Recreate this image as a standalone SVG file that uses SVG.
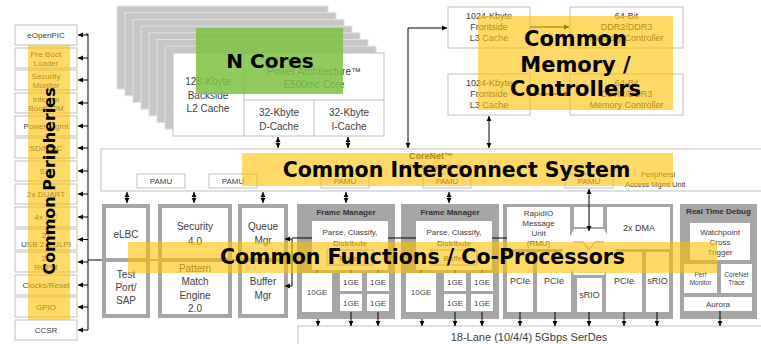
<svg xmlns="http://www.w3.org/2000/svg" width="761" height="344" viewBox="0 0 761 344">
<defs>
<style>
.t{font-family:"Liberation Sans",Arial,sans-serif;font-size:8px;fill:#404040;text-anchor:middle}
.m{font-size:10px}
.s{font-size:9px}
.xs{font-size:6.5px}
.b{font-weight:bold;fill:#333}
.box{fill:#fff;stroke:#bfbfbf;stroke-width:1}
.gbox{fill:#fff;stroke:#a6a6a6;stroke-width:1}
.g{fill:#a6a6a6}
.w{fill:#fff}
.layer{fill:#c6c6c6;stroke:#e2e2e2;stroke-width:1}
.ln{stroke:#000;stroke-width:1;fill:none}
.gl{stroke:#a6a6a6;stroke-width:2;fill:none}
.a1{marker-end:url(#ah)}
.a2{marker-start:url(#ah);marker-end:url(#ah)}
.ov{fill:#ffc000;opacity:0.6}
.big{font-family:"DejaVu Sans",Verdana,sans-serif;font-weight:bold;font-size:20.5px;fill:#000;text-anchor:middle}
</style>
<marker id="ah" markerWidth="6" markerHeight="6" refX="5" refY="3" orient="auto-start-reverse" markerUnits="userSpaceOnUse"><path d="M0,0.6 L5,3 L0,5.4z" fill="#000"/></marker>
</defs>
<rect width="761" height="344" fill="#fff"/>

<!-- Left peripherals -->
<g id="periph">
<rect class="box" x="15" y="25" width="62" height="20"/><text class="t" x="46" y="38">eOpenPIC</text>
<rect class="box" x="15" y="48" width="62" height="20"/><text class="t" x="46" y="56.5">Pre Boot</text><text class="t" x="46" y="65.5">Loader</text>
<rect class="box" x="15" y="70" width="62" height="20"/><text class="t" x="46" y="78.5">Security</text><text class="t" x="46" y="87.5">Monitor</text>
<rect class="box" x="15" y="93" width="62" height="20"/><text class="t" x="46" y="101.5">Internal</text><text class="t" x="46" y="110.5">BootROM</text>
<rect class="box" x="15" y="116" width="62" height="20"/><text class="t" x="46" y="129">Power Mgmt</text>
<rect class="box" x="15" y="138" width="62" height="20"/><text class="t" x="46" y="151">SD/MMC</text>
<rect class="box" x="15" y="161" width="62" height="20"/><text class="t" x="46" y="174">SPI</text>
<rect class="box" x="15" y="184" width="62" height="20"/><text class="t" x="46" y="197">2x DUART</text>
<rect class="box" x="15" y="207" width="62" height="20"/><text class="t" x="46" y="220">4x I2C</text>
<rect class="box" x="15" y="229" width="62" height="21"/><text class="t" x="46" y="238">2x</text><text class="t" x="46" y="247">USB 2.0/ULPI</text>
<rect class="box" x="15" y="252" width="62" height="20"/><text class="t" x="46" y="260.5">2x</text><text class="t" x="46" y="269.5">RCPM</text>
<rect class="box" x="15" y="275" width="62" height="20"/><text class="t" x="46" y="288">Clocks/Reset</text>
<rect class="box" x="15" y="297" width="62" height="20"/><text class="t" x="46" y="310">GPIO</text>
<rect class="box" x="15" y="320" width="62" height="20"/><text class="t" x="46" y="333">CCSR</text>
</g>

<!-- Cores stack -->
<g id="cores">
<rect class="layer" x="117" y="6" width="211" height="83"/>
<rect class="layer" x="125" y="12.7" width="211" height="83"/>
<rect class="layer" x="133" y="19.4" width="211" height="83"/>
<rect class="layer" x="141" y="26.1" width="211" height="83"/>
<rect class="layer" x="149" y="32.8" width="211" height="83"/>
<rect class="layer" x="157" y="39.5" width="211" height="83"/>
<rect class="layer" x="165" y="46.2" width="211" height="83"/>
<rect class="box" x="173" y="53" width="211" height="83"/>
<path d="M244,53 V136 M244,100 H384 M314,100 V136" stroke="#bfbfbf" fill="none"/>
<text class="t m" x="208" y="85">128-Kbyte</text>
<text class="t m" x="208" y="99">Backside</text>
<text class="t m" x="208" y="112">L2 Cache</text>
<text class="t m" x="314" y="75">Power Architecture™</text>
<text class="t m" x="314" y="88">E500mc Core</text>
<text class="t m" x="279" y="116">32-Kbyte</text>
<text class="t m" x="279" y="130">D-Cache</text>
<text class="t m" x="349" y="116">32-Kbyte</text>
<text class="t m" x="349" y="130">I-Cache</text>
</g>

<!-- Memory -->
<g id="l3a"><rect class="box" x="448" y="7" width="82" height="41"/>
<text class="t s" x="489" y="19">1024-Kbyte</text><text class="t s" x="489" y="30">Frontside</text><text class="t s" x="489" y="41">L3 Cache</text></g>
<g id="ddra"><rect class="box" x="570" y="7" width="113" height="41"/>
<text class="t s" x="626.5" y="19">64-Bit</text><text class="t s" x="626.5" y="30">DDR2/DDR3</text><text class="t s" x="626.5" y="41">Memory Controller</text></g>
<g id="l3b"><rect class="box" x="448" y="74" width="82" height="41"/>
<text class="t s" x="489" y="86">1024-Kbyte</text><text class="t s" x="489" y="97">Frontside</text><text class="t s" x="489" y="108">L3 Cache</text></g>
<g id="ddrb"><rect class="box" x="570" y="74" width="113" height="41"/>
<text class="t s" x="626.5" y="86">64-Bit</text><text class="t s" x="626.5" y="97">DDR2/DDR3</text><text class="t s" x="626.5" y="108">Memory Controller</text></g>

<!-- CoreNet -->
<g id="corenet">
<rect class="box" x="101" y="149" width="662" height="42"/>
<text class="t b s" x="431" y="159">CoreNet™</text>
<text class="t" x="431" y="169">Coherency Fabric</text>
<text class="t" x="641" y="177" style="text-anchor:start;font-size:7.5px">Peripheral</text>
<text class="t" x="625" y="187" style="text-anchor:start;font-size:7.5px">Access Mgmt Unit</text>
<rect class="box" x="137" y="174" width="48" height="14"/><text class="t" x="161" y="184">PAMU</text>
<rect class="box" x="209" y="174" width="48" height="14"/><text class="t" x="233" y="184">PAMU</text>
<rect class="box" x="321" y="174" width="48" height="14"/><text class="t" x="345" y="184">PAMU</text>
<rect class="box" x="423" y="174" width="48" height="14"/><text class="t" x="447" y="184">PAMU</text>
<rect class="box" x="565" y="174" width="48" height="14"/><text class="t" x="589" y="184">PAMU</text>
</g>

<!-- eLBC -->
<g id="elbc">
<rect class="g" x="102" y="204" width="48" height="114"/>
<rect class="w" x="106" y="208" width="40" height="50"/>
<rect class="w" x="106" y="262" width="40" height="52"/>
<text class="t m" x="126" y="238">eLBC</text>
<text class="t m" x="126" y="278">Test</text><text class="t m" x="126" y="291">Port/</text><text class="t m" x="126" y="304">SAP</text>
</g>
<g id="security">
<rect class="g" x="158" y="204" width="74" height="114"/>
<rect class="w" x="162" y="208" width="66" height="50"/>
<rect class="w" x="162" y="262" width="66" height="52"/>
<text class="t m" x="195" y="230">Security</text><text class="t m" x="195" y="245">4.0</text>
<text class="t m" x="195" y="272">Pattern</text><text class="t m" x="195" y="285">Match</text><text class="t m" x="195" y="299">Engine</text><text class="t m" x="195" y="312">2.0</text>
</g>
<g id="qman">
<rect class="g" x="238" y="204" width="50" height="114"/>
<rect class="w" x="242" y="208" width="42" height="50"/>
<rect class="w" x="242" y="262" width="42" height="52"/>
<text class="t m" x="263" y="230">Queue</text><text class="t m" x="263" y="244">Mgr</text>
<text class="t m" x="263" y="285">Buffer</text><text class="t m" x="263" y="299">Mgr</text>
</g>

<!-- Frame Managers -->
<g id="fm1">
<rect class="g" x="297" y="204" width="98" height="115"/>
<text class="t b" x="346" y="215">Frame Manager</text>
<rect class="w" x="312" y="221" width="76" height="49"/>
<text class="t" x="350" y="235">Parse, Classify,</text>
<text class="t" x="350" y="246">Distribute</text>
<rect class="gbox" x="327" y="250" width="46" height="15"/><text class="t" x="350" y="261">Buffer</text>
<rect class="w" x="302" y="273" width="30" height="39"/><text class="t" x="317" y="295">10GE</text>
<rect class="w" x="340" y="273" width="22" height="18"/><text class="t" x="351" y="285">1GE</text>
<rect class="w" x="367" y="273" width="22" height="18"/><text class="t" x="378" y="285">1GE</text>
<rect class="w" x="340" y="294" width="22" height="17"/><text class="t" x="351" y="306">1GE</text>
<rect class="w" x="367" y="294" width="22" height="17"/><text class="t" x="378" y="306">1GE</text>
</g>
<g id="fm2">
<rect class="g" x="401" y="204" width="98" height="115"/>
<text class="t b" x="450" y="215">Frame Manager</text>
<rect class="w" x="416" y="221" width="76" height="49"/>
<text class="t" x="454" y="235">Parse, Classify,</text>
<text class="t" x="454" y="246">Distribute</text>
<rect class="gbox" x="431" y="250" width="46" height="15"/><text class="t" x="454" y="261">Buffer</text>
<rect class="w" x="406" y="273" width="30" height="39"/><text class="t" x="421" y="295">10GE</text>
<rect class="w" x="444" y="273" width="22" height="18"/><text class="t" x="455" y="285">1GE</text>
<rect class="w" x="471" y="273" width="22" height="18"/><text class="t" x="482" y="285">1GE</text>
<rect class="w" x="444" y="294" width="22" height="17"/><text class="t" x="455" y="306">1GE</text>
<rect class="w" x="471" y="294" width="22" height="17"/><text class="t" x="482" y="306">1GE</text>
</g>

<!-- RapidIO / PCIe -->
<g id="srio">
<rect class="g" x="503" y="204" width="170" height="115"/>
<rect class="w" x="507" y="207" width="63" height="42"/>
<rect class="w" x="574" y="207" width="29" height="20"/>
<rect class="w" x="607" y="207" width="63" height="42"/>
<polygon class="w" points="574,229 604,229 616,252 604,275 574,275 562,252"/>
<path d="M574,242 H583 L589,250 L595,242 H604" stroke="#7f7f7f" fill="none" stroke-width="0.8"/>
<rect class="w" x="507" y="252" width="26" height="60"/>
<rect class="w" x="537" y="252" width="34" height="60"/>
<rect class="w" x="577" y="278" width="25" height="34"/>
<rect class="w" x="606" y="252" width="36" height="60"/>
<rect class="w" x="646" y="252" width="23" height="60"/>
<text class="t" x="538.5" y="216">RapidIO</text><text class="t" x="538.5" y="226">Message</text><text class="t" x="538.5" y="236">Unit</text><text class="t" x="538.5" y="246">(RMU)</text>
<text class="t s" x="639" y="231">2x DMA</text>
<text class="t s" x="520" y="284">PCIe</text>
<text class="t s" x="554" y="284">PCIe</text>
<text class="t s" x="624" y="284">PCIe</text>
<text class="t s" x="657.5" y="284">sRIO</text>
<text class="t s" x="589.5" y="298">sRIO</text>
</g>

<!-- Real Time Debug -->
<g id="debug">
<rect class="g" x="680" y="204" width="77" height="115"/>
<text class="t b" x="718.5" y="214">Real Time Debug</text>
<rect class="w" x="690" y="223" width="60" height="37"/>
<text class="t" x="720" y="235">Watchpoint</text><text class="t" x="720" y="245">Cross</text><text class="t" x="720" y="255">Trigger</text>
<rect class="w" x="684" y="264" width="33" height="29"/>
<text class="t xs" x="700.5" y="277">Perf</text><text class="t xs" x="700.5" y="285">Monitor</text>
<rect class="w" x="721" y="264" width="31" height="29"/>
<text class="t xs" x="736.5" y="277">CoreNet</text><text class="t xs" x="736.5" y="285">Trace</text>
<rect class="w" x="684" y="297" width="68" height="14"/>
<text class="t" x="718" y="307">Aurora</text>
</g>

<g id="serdes">
<rect class="box" x="298" y="326" width="470" height="25"/>
<text class="t" x="529" y="341" style="font-size:11px">18-Lane (10/4/4) 5Gbps SerDes</text>
</g>

<!-- Connectors -->
<g id="connectors">
<path class="ln" d="M86,34 H88 V330"/>
<path class="ln a1" d="M88,35 H78"/>
<path class="ln a1" d="M88,58 H78"/>
<path class="ln a1" d="M88,80 H78"/>
<path class="ln a1" d="M88,103 H78"/>
<path class="ln a1" d="M88,126 H78"/>
<path class="ln a1" d="M88,148 H78"/>
<path class="ln a1" d="M88,171 H78"/>
<path class="ln a1" d="M88,194 H78"/>
<path class="ln a1" d="M88,217 H78"/>
<path class="ln a1" d="M88,239.5 H78"/>
<path class="ln a1" d="M88,262 H78"/>
<path class="ln a1" d="M88,285 H78"/>
<path class="ln a1" d="M88,307 H78"/>
<path class="ln a1" d="M88,330 H78"/>
<path class="ln" d="M88,260 H102"/>
<path class="gl" d="M150,260 H158 M232,260 H238"/>
<path class="ln a2" d="M278,137 V148"/>
<path class="ln a2" d="M348,137 V148"/>
<path class="ln a2" d="M408,148 V28 H447"/>
<path class="ln a2" d="M489,148 V116"/>
<path class="ln a1" d="M530,27 H569"/>
<path class="ln a1" d="M530,94 H569"/>
<path class="ln a2" d="M127,192 V203"/>
<path class="ln a2" d="M194,192 V203"/>
<path class="ln a2" d="M263,192 V203"/>
<path class="ln a2" d="M346,192 V203"/>
<path class="ln a2" d="M449,192 V203"/>
<path class="ln a2" d="M589,189 V231"/>
<path class="ln a2" d="M285,239 H292 V286 H285"/>
<path class="ln" d="M292,238 H312 M388,238 H416 M492,238 H507"/>
<path class="ln" d="M351,270 V273 M378,270 V273 M455,270 V273 M482,270 V273 M317,270 V273 M421,270 V273"/>
<path class="ln a1" d="M318,319 V326"/>
<path class="ln a1" d="M351,312 V326"/>
<path class="ln a1" d="M378,312 V326"/>
<path class="ln a1" d="M422,319 V326"/>
<path class="ln a1" d="M455,312 V326"/>
<path class="ln a1" d="M482,312 V326"/>
<path class="ln a1" d="M520,312 V326"/>
<path class="ln a1" d="M555,312 V326"/>
<path class="ln a1" d="M589,312 V326"/>
<path class="ln a1" d="M624,312 V326"/>
<path class="ln a1" d="M657,312 V326"/>
<path class="ln a1" d="M720,311 V326"/>
</g>

<!-- Overlay labels -->
<g id="overlays">
<rect x="196" y="28" width="147" height="66" fill="#7cc242" opacity="0.85"/>
<text class="big" x="270" y="68" style="font-size:20px">N Cores</text>
<rect class="ov" x="478" y="16" width="195" height="94"/>
<text class="big" x="575.5" y="46" style="font-size:21px">Common</text>
<text class="big" x="575.5" y="72" style="font-size:21px">Memory /</text>
<text class="big" x="575.5" y="96" style="font-size:21px">Controllers</text>
<rect class="ov" x="242" y="153" width="431" height="33"/>
<text class="big" x="456.5" y="177">Common Interconnect System</text>
<rect class="ov" x="128" y="242" width="589" height="31"/>
<text class="big" x="422.5" y="264">Common Functions / Co-Processors</text>
<rect class="ov" x="28" y="45" width="42" height="275"/>
<text class="big" transform="translate(55,181) rotate(-90)" style="font-size:16px">Common Peripheries</text>
</g>
</svg>
